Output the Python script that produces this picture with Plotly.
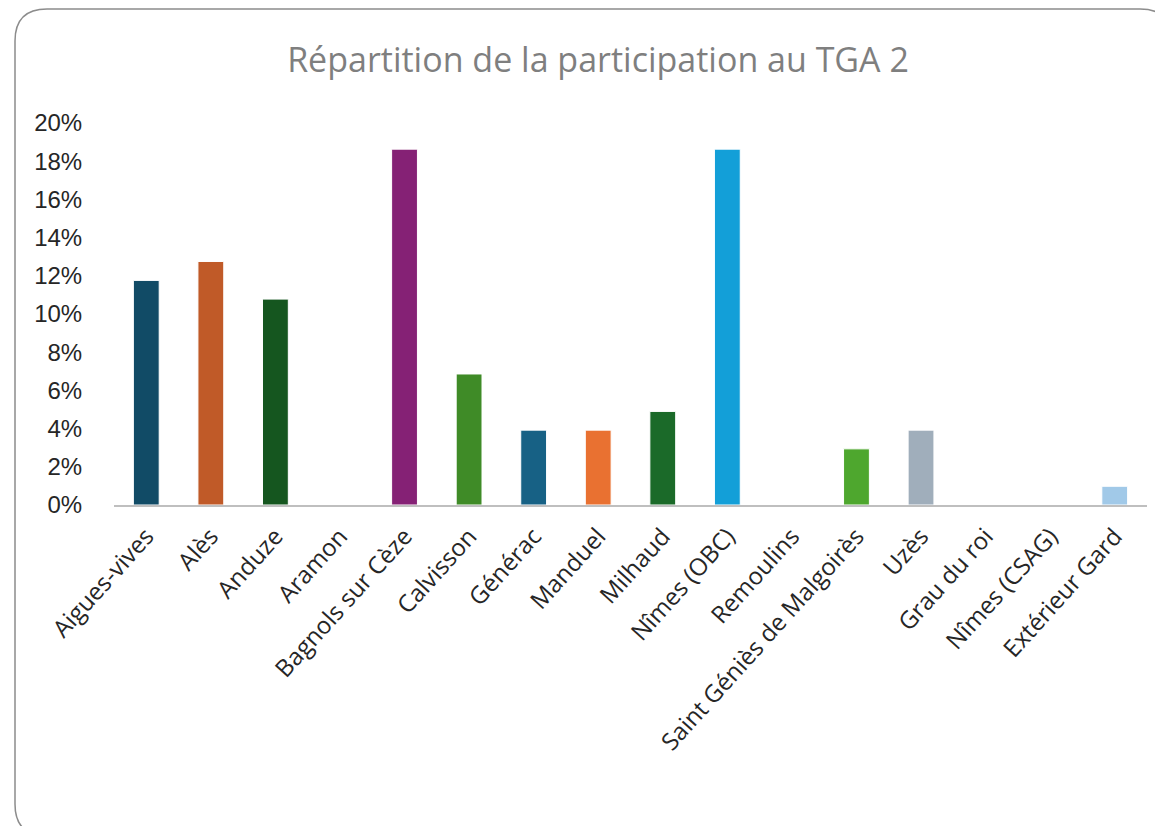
import plotly.graph_objects as go

categories = ["Aigues-vives", "Alès", "Anduze", "Aramon", "Bagnols sur Cèze", "Calvisson",
              "Générac", "Manduel", "Milhaud", "Nîmes (OBC)", "Remoulins",
              "Saint Géniès de Malgoirès", "Uzès", "Grau du roi", "Nîmes (CSAG)", "Extérieur Gard"]
shares = [0.1176, 0.1275, 0.1078, 0.0, 0.1863, 0.0686,
          0.0392, 0.0392, 0.0490, 0.1863, 0.0,
          0.0294, 0.0392, 0.0, 0.0, 0.0098]
bar_colors = ["#114B66", "#C05A28", "#15561F", "#7A7A7A", "#852175", "#3F8B27",
              "#176185", "#E97131", "#1B6A29", "#139FD8", "#999999",
              "#4EA72E", "#A0AEBB", "#888888", "#777777", "#A1C9E8"]
title_text = "Répartition de la participation au TGA 2"

OFF = 8  # page body margin
W, H = 1163 - OFF, 826 - OFF
L, T = 114 - OFF, 123 - OFF
R = W - (1147 - OFF)
B = H - (505 - OFF)
pw, ph = W - L - R, H - T - B

def px(x):
    return (x - OFF - L) / pw

def py(y):
    return (H - B - (y - OFF)) / ph

fig = go.Figure(go.Bar(
    x=categories, y=shares,
    marker=dict(color=bar_colors, line=dict(color="white", width=1)),
    width=0.4,
))

# rounded frame (screen coords)
x0, y0, x1, y1, rad = 15, 9, 1172, 836, 32
path = (f"M {px(x0+rad)} {py(y0)} L {px(x1-rad)} {py(y0)} "
        f"Q {px(x1)} {py(y0)} {px(x1)} {py(y0+rad)} "
        f"L {px(x1)} {py(y1-rad)} Q {px(x1)} {py(y1)} {px(x1-rad)} {py(y1)} "
        f"L {px(x0+rad)} {py(y1)} Q {px(x0)} {py(y1)} {px(x0)} {py(y1-rad)} "
        f"L {px(x0)} {py(y0+rad)} Q {px(x0)} {py(y0)} {px(x0+rad)} {py(y0)} Z")

fig.update_layout(
    width=W, height=H,
    margin=dict(l=L, r=R, t=T, b=B),
    paper_bgcolor="white", plot_bgcolor="white",
    showlegend=False,
    title=dict(text=title_text, x=(598 - OFF) / W, xanchor="center", xref="container",
               y=1 - (60 - OFF) / H, yanchor="middle", yref="container",
               font=dict(family="Open Sans", size=34, color="#7F7F7F")),
    shapes=[dict(type="path", path=path, xref="paper", yref="paper",
                 line=dict(color="#8C8C8C", width=1.5), layer="below")],
    font=dict(family="Liberation Sans, Arial", color="#262626"),
)
fig.update_yaxes(range=[0, 0.2], dtick=0.02, tickformat=".0%", showgrid=False,
                 zeroline=False, showline=False, ticks="outside", ticklen=26,
                 tickcolor="rgba(0,0,0,0)",
                 tickfont=dict(family="Liberation Sans, Arial", size=24, color="#262626"))
fig.update_xaxes(showline=True, linecolor="#BFBFBF", linewidth=1.5, tickangle=-48,
                 ticks="outside", ticklen=6, tickcolor="rgba(0,0,0,0)",
                 tickfont=dict(family="Open Sans", size=24, color="#262626"))

fig.write_html("out.html")
